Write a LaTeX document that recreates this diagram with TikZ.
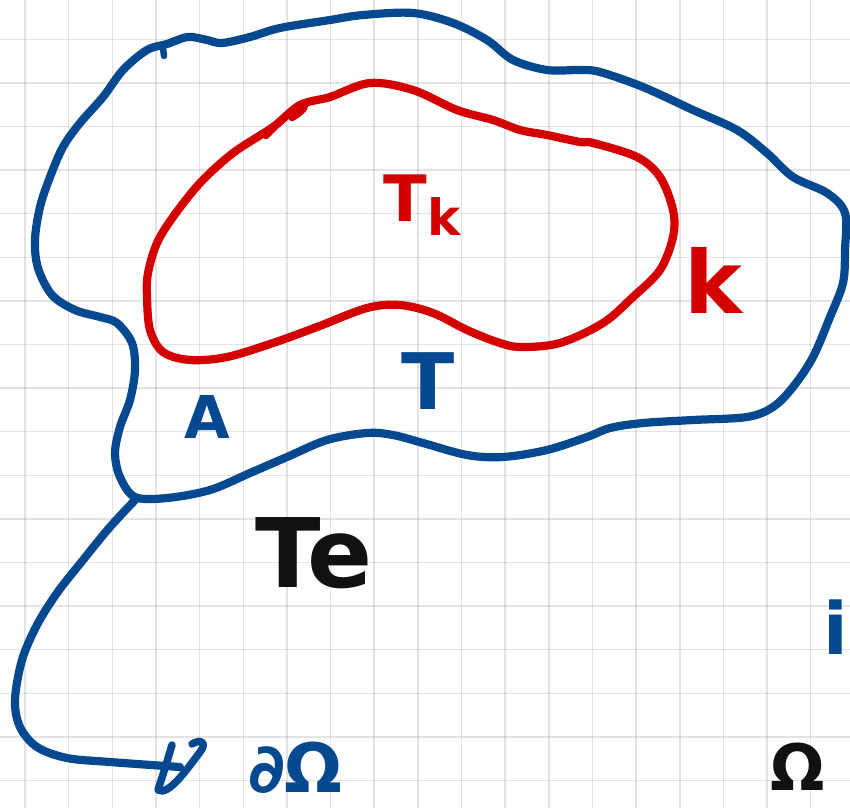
\documentclass[tikz,border=0pt]{standalone}
\usepackage{fontspec}
\setmainfont{DejaVu Sans}
\definecolor{penblue}{RGB}{4,72,143}
\definecolor{penred}{RGB}{212,0,0}
\definecolor{penblack}{RGB}{17,17,17}
\begin{document}
\begin{tikzpicture}[x=1pt,y=-1pt,
  gridline/.style={draw=black, opacity=0.11, line width=1.5pt},
  blueline/.style={draw=penblue, line width=8.2pt, line cap=round, line join=round},
  redline/.style={draw=penred, line width=8.2pt, line cap=round, line join=round},
  lbl/.style={inner sep=0pt, outer sep=0pt, font=\bfseries},
  bluelbl/.style={lbl, text=penblue},
  redlbl/.style={lbl, text=penred},
  blacklbl/.style={lbl, text=penblack}]
\fill[white] (0,0) rectangle (850,808);
\useasboundingbox (0,0) rectangle (850,808);
% grid
\foreach \i in {0,...,18} \draw[gridline] ({25+43.65*\i},0) -- ({25+43.65*\i},808);
\foreach \j in {0,...,17} \draw[gridline] (0,{39.3+43.6*\j}) -- (850,{39.3+43.6*\j});
% outer blue region
\draw[blueline] plot[smooth cycle, tension=0.55] coordinates {
 (135,497) (120,477) (115,453) (120,427) (130,400) (135,370) (132,343) (117,323)
 (100,317) (75,310) (52,295) (38,268) (35,240) (40,207) (50,177) (63,147) (80,123)
 (103,97) (123,70) (147,50) (167,44) (188,37) (207,40) (222,43) (250,37) (280,28)
 (330,20) (363,15) (413,13) (453,23) (487,40) (513,60) (547,70) (580,70) (600,72)
 (643,87) (693,110) (737,130) (767,153) (793,177) (827,193) (845,213) (845,250)
 (843,283) (830,317) (813,357) (793,387) (773,407) (747,417) (693,420) (643,423)
 (610,428) (587,437) (547,450) (503,457) (467,455) (423,443) (393,435) (367,433)
 (327,440) (287,457) (250,473) (210,490) (167,498)};
% small pen tick on top of blue curve
\draw[blueline, line width=6.5pt] (163,48) -- (164,56);
% tail of the blue curve
\coordinate (tailstart) at (137,498);
\coordinate (tailend) at (180,767);
\draw[blueline] plot[smooth, tension=0.55] coordinates {
 (tailstart) (110,527) (83,560) (57,593) (37,625) (22,660) (15,700) (20,727)
 (37,747) (67,758) (110,762) (tailend)};
\draw[blueline, line width=7.5pt] (172,745) .. controls (166,765) .. (158,790)
  .. controls (168,796) and (185,772) .. (200,752)
  .. controls (208,742) and (200,739) .. (192,744);
% inner red region
\draw[redline] plot[smooth cycle, tension=0.55] coordinates {
 (300,105) (330,97) (370,83) (413,90) (457,110) (493,120) (520,130) (547,135)
 (580,142) (593,143) (637,157) (660,177) (673,210) (673,237) (660,270) (633,297)
 (603,323) (560,343) (520,347) (497,342) (467,330) (433,313) (400,305) (367,308)
 (317,327) (273,343) (227,357) (190,360) (163,352) (150,330) (147,297) (148,273)
 (157,243) (173,217) (200,183) (233,153) (273,127)};
\draw[redline, line width=6.5pt] (266,136) .. controls (282,120) .. (300,105)
  .. controls (308,103) and (306,110) .. (292,118);
% labels
\node[redlbl, anchor=north west] (tk) at (383,175)
  {\fontsize{64}{70}\selectfont T\kern1pt\raisebox{-14pt}{\fontsize{50}{54}\selectfont k}};
\node[redlbl, anchor=north west] (k) at (684,247) {\fontsize{87}{95}\selectfont k};
\node[bluelbl, anchor=north] (t) at (428,353) {\fontsize{78}{85}\selectfont T};
\node[bluelbl, anchor=north] (a) at (207,395) {\fontsize{59}{65}\selectfont A};
\node[blacklbl, anchor=north west] (te) at (255,518) {\fontsize{96}{100}\selectfont Te};
\node[bluelbl, anchor=base west] (domega) at (248,792) {\fontsize{68}{72}\selectfont ∂Ω};
\node[bluelbl, anchor=north] (i) at (836,600) {\fontsize{72}{80}\selectfont i};
\node[blacklbl, anchor=base west] (omega) at (770,790) {\fontsize{64}{70}\selectfont Ω};
\end{tikzpicture}
\end{document}
